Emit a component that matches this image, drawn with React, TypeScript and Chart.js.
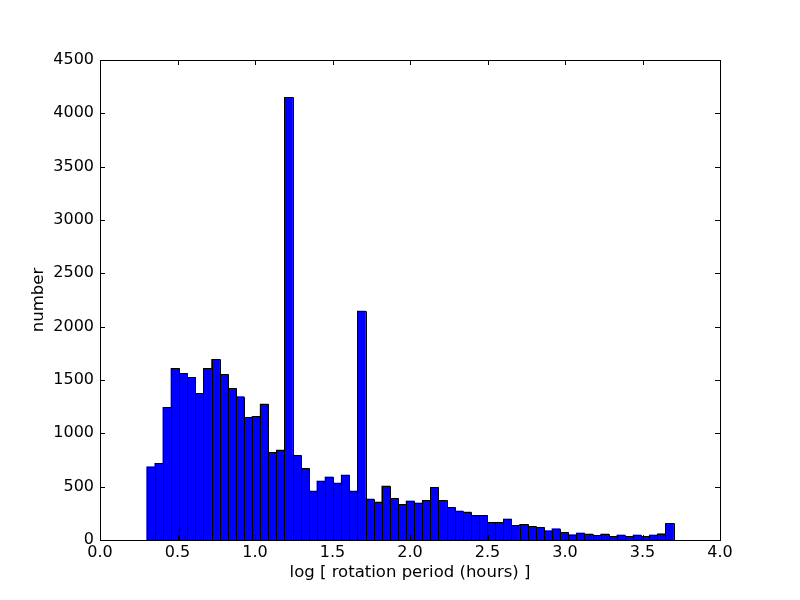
import React, { useEffect, useRef } from "react";
import { Chart, registerables } from "chart.js";

Chart.register(...registerables);

// Histogram bins (log10 of rotation period in hours)
const BIN_START = 0.301;
const BIN_WIDTH = 0.0523;
const counts: number[] = [
  687, 719, 1244, 1609, 1562, 1525, 1375, 1609, 1694, 1553,
  1422, 1344, 1150, 1159, 1275, 822, 844, 4150, 794, 672,
  459, 553, 591, 534, 609, 459, 2147, 384, 356, 506,
  391, 334, 366, 347, 372, 494, 372, 306, 272, 262,
  231, 231, 166, 166, 197, 137, 147, 128, 119, 88,
  106, 72, 50, 66, 56, 44, 56, 34, 47, 34,
  47, 34, 47, 59, 156,
];
const binCenters: number[] = counts.map((_, i) => BIN_START + (i + 0.5) * BIN_WIDTH);

const xTicks: number[] = [0, 0.5, 1.0, 1.5, 2.0, 2.5, 3.0, 3.5, 4.0];
const yTicks: number[] = [0, 500, 1000, 1500, 2000, 2500, 3000, 3500, 4000, 4500];

const X_TITLE = "log [ rotation period (hours) ]";
const Y_TITLE = "number";
const FONT = "'DejaVu Sans', sans-serif";

const framePlugin = {
  id: "frameAndTicks",
  afterDatasetsDraw(chart: any) {
    const { ctx, chartArea, scales } = chart;
    const { left, right, top, bottom } = chartArea;
    const tl = 5;
    ctx.save();
    ctx.strokeStyle = "#000";
    ctx.lineWidth = 1;
    // crisp bar outlines from the bar elements computed by Chart.js
    const meta = chart.getDatasetMeta(0);
    ctx.beginPath();
    for (const el of meta.data as any[]) {
      const x0 = Math.round(el.x - el.width / 2) + 0.5;
      const x1 = Math.round(el.x + el.width / 2) + 0.5;
      const y0 = Math.round(el.y) + 0.5;
      const y1 = Math.round(el.base) + 0.5;
      ctx.rect(x0, y0, x1 - x0, y1 - y0);
    }
    ctx.stroke();
    // inward ticks
    ctx.beginPath();
    for (const v of xTicks) {
      const px = Math.round(scales.x.getPixelForValue(v)) + 0.5;
      ctx.moveTo(px, bottom);
      ctx.lineTo(px, bottom - tl);
      ctx.moveTo(px, top);
      ctx.lineTo(px, top + tl);
    }
    for (const v of yTicks) {
      const py = Math.round(scales.y.getPixelForValue(v)) + 0.5;
      ctx.moveTo(left, py);
      ctx.lineTo(left + tl, py);
      ctx.moveTo(right, py);
      ctx.lineTo(right - tl, py);
    }
    ctx.stroke();
    ctx.strokeRect(Math.round(left) + 0.5, Math.round(top) + 0.5, Math.round(right - left), Math.round(bottom - top));
    ctx.restore();
  },
};

export default function App() {
  const ref = useRef<HTMLCanvasElement | null>(null);

  useEffect(() => {
    if (!ref.current) return;
    const chart = new Chart(ref.current, {
      type: "bar",
      data: {
        datasets: [
          {
            data: binCenters.map((x, i) => ({ x, y: counts[i] })),
            backgroundColor: "#0000ff",
            borderWidth: 0,
            barPercentage: 1,
            categoryPercentage: 1,
          } as any,
        ],
      },
      options: {
        animation: false,
        responsive: false,
        layout: { padding: { top: 60, right: 80, left: 0, bottom: 0 } },
        plugins: { legend: { display: false }, tooltip: { enabled: false } },
        scales: {
          x: {
            type: "linear",
            min: 0,
            max: 4,
            offset: false,
            grid: { display: false, offset: false, drawTicks: false },
            border: { display: false },
            afterFit: (s: any) => { s.height = 60; },
            afterBuildTicks: (s: any) => { s.ticks = xTicks.map((v) => ({ value: v })); },
            ticks: {
              color: "#000",
              font: { family: FONT, size: 16 },
              padding: 3,
              maxRotation: 0,
              autoSkip: false,
              callback: (v: any) => Number(v).toFixed(1),
            },
            title: {
              display: true,
              text: X_TITLE,
              color: "#000",
              font: { family: FONT, size: 16.5 },
              padding: { top: 0, bottom: 17 },
            },
          },
          y: {
            type: "linear",
            min: 0,
            max: 4500,
            grid: { display: false, drawTicks: false },
            border: { display: false },
            afterFit: (s: any) => { s.width = 100; },
            afterBuildTicks: (s: any) => { s.ticks = yTicks.map((v) => ({ value: v })); },
            ticks: {
              color: "#000",
              font: { family: FONT, size: 16 },
              padding: 6,
              autoSkip: false,
              callback: (v: any) => String(v),
            },
            title: {
              display: true,
              text: Y_TITLE,
              color: "#000",
              font: { family: FONT, size: 16.5 },
              padding: { top: 29, bottom: 0 },
            },
          },
        },
      },
      plugins: [framePlugin],
    });
    return () => chart.destroy();
  }, []);

  return (
    <div style={{ position: "fixed", left: 0, top: 0, width: 800, height: 600, background: "#fff" }}>
      <canvas ref={ref} width={800} height={600} style={{ width: 800, height: 600 }} />
    </div>
  );
}
